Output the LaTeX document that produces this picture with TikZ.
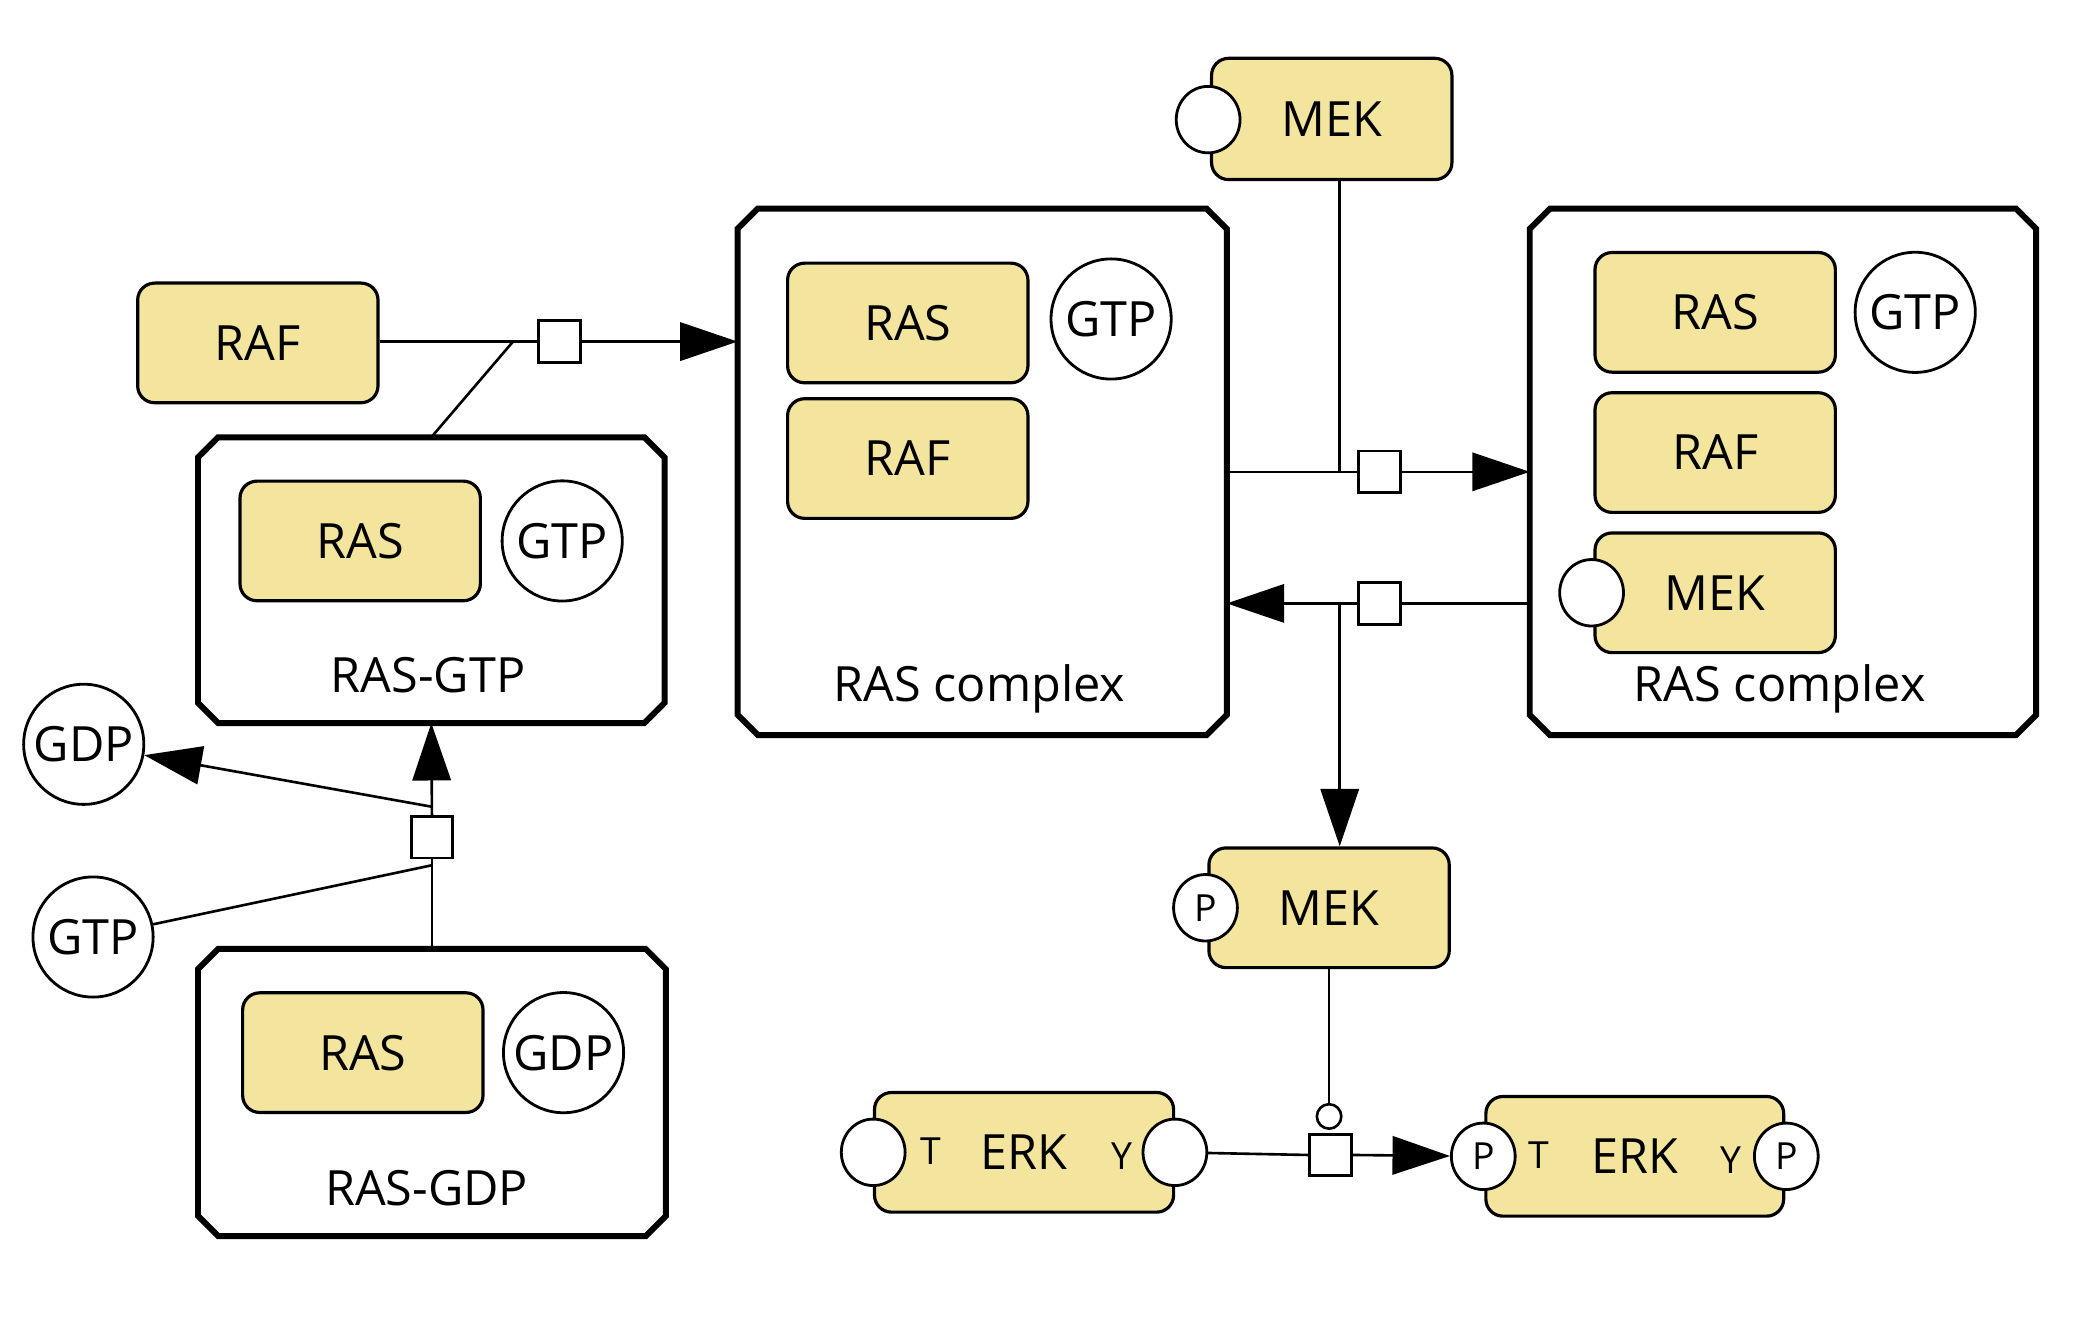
\documentclass[tikz,border=0pt]{standalone}
\usepackage{fontspec}
\setmainfont{Open Sans}
\usetikzlibrary{arrows.meta,shapes.geometric,positioning}
\definecolor{macrofill}{RGB}{243,229,158}
\tikzset{
    macro/.style={rectangle,rounded corners=0.32cm,draw,line width=1.7pt,
        fill=macrofill,minimum width=4.52cm,minimum height=2.25cm,
        font=\fontsize{26}{30}\selectfont},
    cplx/.style={rectangle,inner sep=0pt},
    cplxline/.style={line width=3.2pt,line join=miter},
    cxlabel/.style={inner sep=0pt,font=\fontsize{26}{30}\selectfont},
    chem/.style={circle,draw,line width=1.5pt,fill=white,minimum size=2.26cm,
        inner sep=0pt,font=\fontsize{26}{30}\selectfont},
    svar/.style={ellipse,draw,line width=1.5pt,fill=white,minimum width=1.2cm,
        minimum height=1.25cm,inner sep=0pt,font=\fontsize{20}{24}\selectfont},
    site/.style={inner sep=0pt,font=\fontsize{20}{24}\selectfont},
    proc/.style={rectangle,draw,line width=1.5pt,fill=white,minimum size=0.78cm,inner sep=0pt},
    catal/.style={circle,draw,line width=1.4pt,fill=white,minimum size=0.46cm,inner sep=0pt},
    prod/.style={-{Triangle[length=1.08cm,width=0.72cm]}},
}
\newcommand\cplxoutline[1]{%
    \draw[cplxline] ([xshift=0.38cm]#1.north west) -- ([xshift=-0.38cm]#1.north east)
        -- ([yshift=-0.38cm]#1.north east) -- ([yshift=0.38cm]#1.south east)
        -- ([xshift=-0.38cm]#1.south east) -- ([xshift=0.38cm]#1.south west)
        -- ([yshift=0.38cm]#1.south west) -- ([yshift=-0.38cm]#1.north west) -- cycle;}
\begin{document}
\begin{tikzpicture}[x=0.025cm,y=-0.025cm,line width=1.4pt]
    \useasboundingbox (0,0) rectangle (1568,1007);
    % complexes
    \node (gtpCx) [cplx,minimum width=8.725cm,minimum height=5.325cm] at (324.5,436.5) {};
    \node (gdpCx) [cplx,minimum width=8.75cm,minimum height=5.35cm] at (325,822) {};
    \node (midCx) [cplx,minimum width=9.15cm,minimum height=9.85cm] at (739,355) {};
    \node (rightCx) [cplx,minimum width=9.475cm,minimum height=9.85cm] at (1341.5,355) {};
    \cplxoutline{gtpCx}
    \cplxoutline{gdpCx}
    \cplxoutline{midCx}
    \cplxoutline{rightCx}
    \node (gtpCxLbl) [cxlabel] at (322,508) {RAS-GTP};
    \node (gdpCxLbl) [cxlabel] at (321,894) {RAS-GDP};
    \node (midCxLbl) [cxlabel] at (737,518) {RAS complex};
    \node (rightCxLbl) [cxlabel] at (1339,518) {RAS complex};
    % macromolecules
    \node (raf) [macro] at (194,258) {RAF};
    \node (rasA) [macro] at (271,407) {RAS};
    \node (rasB) [macro] at (273,792) {RAS};
    \node (rasC) [macro] at (683,243) {RAS};
    \node (rafC) [macro] at (683,345) {RAF};
    \node (rasD) [macro] at (1290.5,235) {RAS};
    \node (rafD) [macro] at (1290.5,340.5) {RAF};
    \node (mekD) [macro] at (1290.5,446) {MEK};
    \node (mekT) [macro,minimum height=2.28cm] at (1002,89.5) {MEK};
    \node (mekP) [macro] at (1000,683) {MEK};
    \node (erkA) [macro,minimum width=5.625cm] at (770.5,867) {ERK};
    \node (erkB) [macro,minimum width=5.6cm] at (1230,870) {ERK};
    % state variables
    \node (mekTInfo) [svar] at (909,90) {};
    \node (mekDInfo) [svar] at (1197.5,446) {};
    \node (mekPSite) [svar] at (907,683) {P};
    \node (erkAT) [svar] at (657,867) {};
    \node (erkAY) [svar] at (884,867) {};
    \node (erkBT) [svar] at (1116,870) {P};
    \node (erkBY) [svar] at (1344,870) {P};
    \node (erkATLbl) [site] at (700,866) {T};
    \node (erkAYLbl) [site] at (844,870) {Y};
    \node (erkBTLbl) [site] at (1158,869) {T};
    \node (erkBYLbl) [site] at (1302,873) {Y};
    % simple chemicals
    \node (gtpA) [chem] at (423,407) {GTP};
    \node (gdpB) [chem] at (424,792) {GDP};
    \node (gtpC) [chem] at (836,240) {GTP};
    \node (gtpD) [chem] at (1441,235) {GTP};
    \node (gdpF) [chem] at (63,560) {GDP};
    \node (gtpF) [chem] at (70,705) {GTP};
    % processes
    \node (p0) [proc] at (421,257) {};
    \node (p1) [proc] at (325,630) {};
    \node (p2) [proc] at (1038,355) {};
    \node (p3) [proc] at (1038,454) {};
    \node (p4) [proc] at (1001,869) {};
    \node (mekCat) [catal] at (1000,840) {};
    \coordinate (j0) at (386,257);
    \coordinate (j1in) at (325,651);
    \coordinate (j1out) at (325,607);
    \coordinate (j2) at (1008,355);
    \coordinate (j3) at (1008,454);
    % arcs
    \draw (raf.east |- j0) -- (j0) -- (p0.west);
    \draw (gtpCx.north) -- (j0);
    \draw[prod] (p0.east) -- (p0 -| midCx.west);
    \draw (gdpCx.north) -- (p1.south);
    \draw[prod] (p1.north) -- (gtpCx.south);
    \draw (gtpF) -- (j1in);
    \draw[prod] (j1out) -- (gdpF);
    \draw (midCx.east) -- (p2.west);
    \draw[prod] (p2.east) -- (rightCx.west);
    \draw (mekT.south -| j2) -- (j2);
    \draw (p3 -| rightCx.west) -- (p3.east);
    \draw[prod] (p3.west) -- (p3 -| midCx.east);
    \draw[prod] (j3) -- (j3 |- mekP.north);
    \draw (mekP.south) -- (mekCat);
    \draw (erkAY) -- (p4.west);
    \draw[prod] (p4.east) -- (erkBT);
\end{tikzpicture}
\end{document}
